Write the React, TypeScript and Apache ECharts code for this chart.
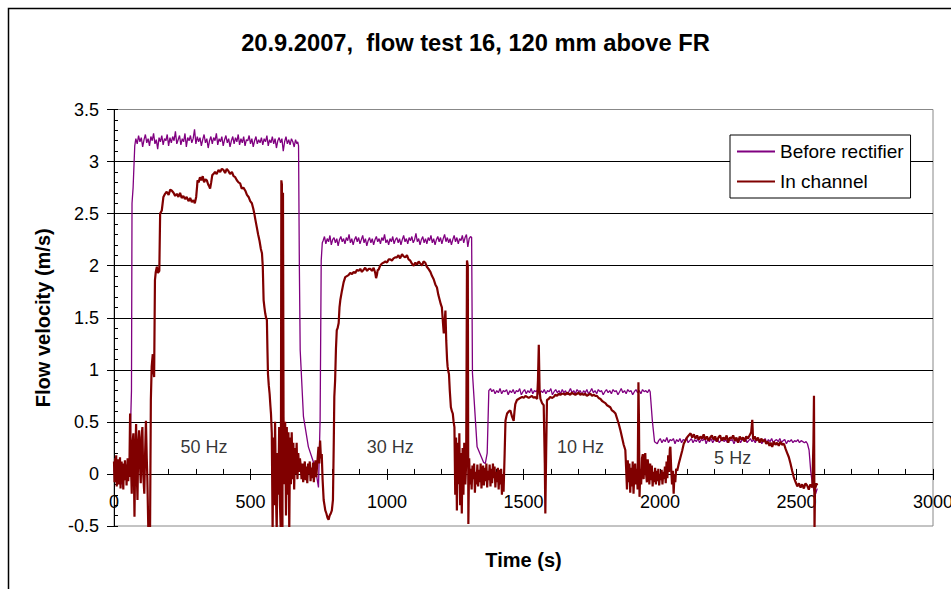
import React, { useEffect, useRef } from "react";
import * as echarts from "echarts";

const titleText = "20.9.2007,  flow test 16, 120 mm above FR";
const seriesNames = ["Before rectifier", "In channel"];
const seriesColors = ["#800080", "#800000"];
const yTicks = { min: -0.5, max: 3.5, step: 0.5, minorStep: 0.1 };
const xTicks = { min: 0, max: 3000, step: 500, minorStep: 100 };

const beforeRectifier: [number, number][] = [
  [0,0.04],[3,-0.03],[6,0.07],[9,-0.01],[12,0.05],[15,-0.08],[18,0.02],[21,-0.05],[24,0.06],[27,-0.1],[30,0.01],[33,-0.13],[36,0.03],[39,-0.06],[42,0.08],[45,-0.02],[48,0.05],[51,-0.04],[54,0.09],[57,0.02],[59,0.12],[61,0.5],[64,0.8],[66,2.6],[70,2.75],[76,3.15],
  [80,3.22],[85,3.17],[90,3.25],[95,3.19],[100,3.23],[105,3.14],[110,3.21],[115,3.26],[120,3.18],[125,3.22],[130,3.15],[135,3.24],[140,3.2],[145,3.27],[150,3.17],[155,3.21],[160,3.12],[165,3.23],[170,3.19],[175,3.25],[180,3.16],[185,3.22],[190,3.2],[195,3.26],[200,3.15],[205,3.23],[210,3.18],[215,3.24],[220,3.2],[225,3.29],[230,3.17],[235,3.21],[240,3.25],[245,3.16],[250,3.22],[255,3.19],[260,3.27],[265,3.14],[270,3.23],[275,3.2],[280,3.25],[285,3.18],[290,3.22],[295,3.31],[300,3.17],[305,3.24],[310,3.19],[315,3.23],[320,3.15],[325,3.21],[330,3.26],[335,3.18],[340,3.22],[345,3.13],[350,3.2],[355,3.24],[360,3.17],[365,3.23],[370,3.2],[375,3.27],[380,3.16],[385,3.22],[390,3.19],[395,3.24],[400,3.15],[405,3.21],[410,3.25],[415,3.18],[420,3.22],[425,3.14],[430,3.2],[435,3.24],[440,3.17],[445,3.23],[450,3.19],[455,3.26],[460,3.16],[465,3.22],[470,3.18],[475,3.24],[480,3.15],[485,3.21],[490,3.2],[495,3.25],[500,3.17],[505,3.22],[510,3.14],[515,3.2],[520,3.24],[525,3.17],[530,3.21],[535,3.18],[540,3.23],[545,3.16],[550,3.22],[555,3.19],[560,3.25],[565,3.15],[570,3.21],[575,3.18],[580,3.24],[585,3.17],[590,3.22],[595,3.13],[600,3.2],[605,3.23],[610,3.18],[615,3.22],[620,3.1],[625,3.19],[630,3.24],[635,3.17],[640,3.21],[645,3.16],[650,3.22],[655,3.19],[660,3.14],[665,3.21],[670,3.17],[673,3.19],
  [676,3.15],[679,1.99],[682,1.19],[694,0.55],[712,0.26],[731,0.11],[743,-0.03],[749,-0.13],[755,0.52],[759,2.05],[763,2.22],
  [766,2.24],[771,2.28],[776,2.21],[781,2.26],[786,2.23],[791,2.29],[796,2.2],[801,2.25],[806,2.27],[811,2.22],[816,2.26],[821,2.19],[826,2.25],[831,2.28],[836,2.23],[841,2.26],[846,2.21],[851,2.27],[856,2.24],[861,2.3],[866,2.22],[871,2.26],[876,2.2],[881,2.25],[886,2.28],[891,2.23],[896,2.27],[901,2.21],[906,2.25],[911,2.29],[916,2.22],[921,2.26],[926,2.19],[931,2.24],[936,2.27],[941,2.22],[946,2.26],[951,2.2],[956,2.25],[961,2.28],[966,2.23],[971,2.26],[976,2.21],[981,2.27],[986,2.24],[991,2.3],[996,2.22],[1001,2.25],[1006,2.2],[1011,2.26],[1016,2.23],[1021,2.28],[1026,2.21],[1031,2.25],[1036,2.27],[1041,2.22],[1046,2.26],[1051,2.2],[1056,2.25],[1061,2.29],[1066,2.23],[1071,2.26],[1076,2.21],[1081,2.27],[1086,2.24],[1091,2.28],[1096,2.22],[1101,2.25],[1106,2.31],[1111,2.23],[1116,2.26],[1121,2.2],[1126,2.25],[1131,2.28],[1136,2.22],[1141,2.26],[1146,2.21],[1151,2.27],[1156,2.24],[1161,2.29],[1166,2.22],[1171,2.26],[1176,2.2],[1181,2.25],[1186,2.28],[1191,2.23],[1196,2.27],[1201,2.21],[1206,2.26],[1211,2.3],[1216,2.23],[1221,2.27],[1226,2.22],[1231,2.26],[1236,2.2],[1241,2.25],[1246,2.29],[1251,2.23],[1256,2.27],[1261,2.21],[1266,2.26],[1271,2.24],[1276,2.29],[1281,2.22],[1286,2.27],[1291,2.3],[1296,2.18],[1301,2.26],[1306,2.28],[1310,2.27],
  [1313,0.97],[1330,0.26],[1354,0.11],[1360,0.1],[1367,0.2],[1373,0.8],[1379,0.82],
  [1384,0.79],[1390,0.81],[1396,0.77],[1402,0.8],[1408,0.78],[1414,0.82],[1420,0.77],[1426,0.8],[1432,0.79],[1438,0.81],[1444,0.76],[1450,0.8],[1456,0.78],[1462,0.81],[1468,0.77],[1474,0.8],[1480,0.79],[1486,0.82],[1492,0.76],[1498,0.79],[1504,0.81],[1510,0.77],[1516,0.8],[1522,0.78],[1528,0.82],[1534,0.77],[1540,0.8],[1546,0.79],[1552,0.81],[1558,0.76],[1564,0.8],[1570,0.78],[1576,0.81],[1582,0.77],[1588,0.8],[1594,0.79],[1600,0.82],[1606,0.76],[1612,0.79],[1618,0.81],[1624,0.78],[1630,0.8],[1636,0.77],[1642,0.81],[1648,0.78],[1654,0.8],[1660,0.76],[1666,0.79],[1672,0.82],[1678,0.78],[1684,0.8],[1690,0.77],[1696,0.81],[1702,0.79],[1708,0.8],[1714,0.76],[1720,0.8],[1726,0.78],[1732,0.81],[1738,0.77],[1744,0.79],[1750,0.82],[1756,0.78],[1762,0.8],[1768,0.77],[1774,0.81],[1780,0.79],[1786,0.8],[1792,0.76],[1798,0.79],[1804,0.81],[1810,0.78],[1816,0.8],[1822,0.77],[1828,0.81],[1834,0.79],[1840,0.8],[1846,0.76],[1852,0.79],[1858,0.82],[1864,0.78],[1870,0.8],[1876,0.77],[1882,0.81],[1888,0.79],[1894,0.8],[1900,0.76],[1906,0.79],[1912,0.81],[1918,0.78],[1924,0.8],[1930,0.77],[1936,0.81],[1942,0.79],[1948,0.8],[1954,0.78],[1960,0.81],[1964,0.79],
  [1972,0.51],[1980,0.31],[1990,0.29],
  [1995,0.32],[2001,0.34],[2007,0.3],[2013,0.33],[2019,0.31],[2025,0.35],[2031,0.3],[2037,0.33],[2043,0.32],[2049,0.34],[2055,0.29],[2061,0.33],[2067,0.31],[2073,0.34],[2079,0.3],[2085,0.33],[2091,0.32],[2097,0.35],[2103,0.3],[2109,0.32],[2115,0.34],[2121,0.3],[2127,0.33],[2133,0.31],[2139,0.34],[2145,0.3],[2151,0.33],[2157,0.32],[2163,0.35],[2169,0.29],[2175,0.33],[2181,0.31],[2187,0.34],[2193,0.3],[2199,0.33],[2205,0.32],[2211,0.34],[2217,0.3],[2223,0.32],[2229,0.34],[2235,0.31],[2241,0.33],[2247,0.3],[2253,0.34],[2259,0.32],[2265,0.33],[2271,0.29],[2277,0.33],[2283,0.31],[2289,0.34],[2295,0.3],[2301,0.33],[2307,0.32],[2313,0.35],[2319,0.3],[2325,0.32],[2331,0.34],[2337,0.31],[2343,0.33],[2349,0.3],[2355,0.34],[2361,0.32],[2367,0.33],[2373,0.29],[2379,0.32],[2385,0.34],[2391,0.3],[2397,0.33],[2403,0.31],[2409,0.34],[2415,0.3],[2421,0.32],[2427,0.33],[2433,0.31],[2439,0.34],[2445,0.3],[2451,0.32],[2457,0.33],[2463,0.29],[2469,0.32],[2475,0.31],[2481,0.33],[2487,0.3],[2493,0.32],[2499,0.31],[2505,0.33],[2511,0.3],[2517,0.32],[2523,0.31],[2529,0.3],[2535,0.31],[2540,0.29],
  [2546,0.23],[2552,0.03],[2558,-0.09],[2564,-0.16],[2570,-0.19],[2576,-0.14]
];

const inChannel: [number, number][] = [
  [0,0.12],[2,-0.08],[4,0.15],[6,-0.02],[8,0.18],[10,-0.12],[12,0.05],[14,0.14],[16,-0.1],[18,0.08],[20,-0.05],[22,0.16],[24,-0.14],[26,0.02],[28,0.12],[30,-0.08],[32,0.1],[34,-0.15],[36,0.06],[38,-0.02],[40,0.13],[42,-0.06],[44,0.09],[46,-0.11],[48,0.04],[50,0.15],[52,-0.07],[54,0.1],[56,-0.03],
  [59,0.58],[62,0.1],[65,-0.19],[68,0.3],[71,0.39],[73,0.0],[75,-0.41],[78,0.2],[81,0.48],[83,0.05],[86,-0.25],[89,0.3],[92,0.42],[95,0.1],[98,-0.09],[101,0.35],[104,0.45],[107,0.0],[111,-0.19],[114,0.2],[117,0.51],[120,0.15],[122,-0.03],[126,-0.57],[132,-0.57],[135,0.71],[138,1.03],[142,1.15],[145,0.98],[147,0.93],[150,1.86],[153,1.94],[157,1.99],[161,1.93],[166,1.95],[169,2.5],[175,2.53],[181,2.66],[187,2.69],[193,2.71],[200,2.68],[206,2.73],[212,2.72],[218,2.7],[224,2.67],[230,2.69],[236,2.66],[242,2.7],[248,2.65],[254,2.67],[260,2.64],[266,2.66],[273,2.62],[279,2.65],[285,2.61],[291,2.63],[296,2.6],[301,2.66],[304,2.75],[306,2.82],[310,2.8],[315,2.85],[320,2.82],[325,2.86],[330,2.8],[335,2.83],[340,2.82],[345,2.78],[349,2.76],[352,2.74],[356,2.8],[360,2.87],[364,2.88],[370,2.9],[376,2.88],[383,2.92],[389,2.9],[395,2.93],[401,2.92],[407,2.89],[413,2.93],[419,2.91],[425,2.88],[432,2.9],[438,2.86],[444,2.85],[450,2.82],[456,2.8],[462,2.79],[468,2.74],[474,2.75],[481,2.72],[487,2.68],[493,2.66],[499,2.62],[505,2.6],[510,2.55],[514,2.5],[518,2.44],[523,2.37],[528,2.3],[533,2.24],[538,2.16],[542,2.12],[545,1.99],[548,1.67],[551,1.6],[554,1.54],[557,1.5],[560,1.48],[562,1.2],[564,0.96],[567,0.85],[570,0.77],[573,0.65],[575,0.58],[578,0.39],
  [581,-0.55],[584,0.35],[587,-0.3],[590,0.5],[593,-0.15],[596,-0.55],[599,0.2],[602,-0.2],[605,0.45],[608,-0.3],[611,-0.55],[613,2.82],[615,2.78],[617,-0.55],[619,2.7],[621,0.55],[624,-0.1],[627,0.5],[630,-0.4],[633,0.45],[636,-0.2],[639,0.4],[642,-0.55],[645,0.35],[648,-0.1],[651,0.4],[654,-0.05],[657,0.3],[660,-0.15],[663,0.25],[666,0.0],[669,0.3],[672,-0.05],[675,0.2],[678,0.02],[681,0.15],
  [684,0.08],[687,-0.05],[690,0.1],[693,-0.08],[696,0.05],[699,0.12],[702,-0.06],[705,0.07],[708,-0.09],[711,0.1],[714,0.0],[717,0.12],[720,-0.07],[723,0.06],[726,-0.04],[729,0.11],[732,-0.08],[735,0.05],[738,0.13],[741,-0.03],[744,0.08],
  [749,0.26],[752,0.1],[755,0.32],[758,0.15],[761,0.19],[764,-0.05],[768,-0.25],[771,-0.3],[774,-0.35],[778,-0.38],[782,-0.42],[786,-0.44],[790,-0.4],[794,-0.38],[798,-0.35],[802,-0.25],[805,0.3],[807,0.74],[810,0.9],[813,1.2],[816,1.38],[819,1.4],[823,1.45],[826,1.6],[829,1.67],[835,1.76],[841,1.84],[847,1.89],[853,1.9],[859,1.91],[865,1.93],[872,1.92],[878,1.94],[884,1.93],[890,1.96],[896,1.95],[902,1.97],[908,1.94],[914,1.96],[920,1.98],[927,1.95],[933,1.97],[939,1.97],[945,1.95],[951,1.98],[957,1.93],[960,1.88],[963,1.91],[966,1.96],[969,1.96],[975,2.0],[981,2.02],[988,2.03],[994,2.04],[1000,2.03],[1006,2.06],[1012,2.06],[1018,2.05],[1024,2.07],[1030,2.08],[1036,2.08],[1042,2.1],[1048,2.07],[1055,2.11],[1061,2.09],[1067,2.08],[1073,2.1],[1079,2.06],[1085,2.05],[1091,2.02],[1098,2.0],[1104,2.03],[1110,2.01],[1116,2.04],[1122,2.02],[1128,2.0],[1134,2.04],[1140,2.03],[1146,1.99],[1152,1.97],[1159,1.94],[1165,1.9],[1171,1.87],[1177,1.82],[1183,1.79],[1188,1.72],[1193,1.67],[1197,1.63],[1201,1.6],[1205,1.45],[1208,1.35],[1211,1.45],[1214,1.57],[1217,1.28],[1220,1.1],[1222,1.03],[1225,0.98],[1227,0.96],[1230,0.8],[1234,0.64],[1238,0.6],[1241,0.58],[1244,0.5],[1247,0.45],
  [1250,-0.2],[1253,0.35],[1256,-0.35],[1259,0.3],[1262,-0.1],[1265,0.39],[1268,-0.3],[1271,0.2],[1274,-0.38],[1277,0.25],[1280,-0.2],[1283,0.3],[1287,-0.1],[1290,0.1],[1293,2.05],[1296,2.0],[1298,-0.48],[1301,0.15],
  [1304,-0.1],[1307,0.05],[1310,-0.15],[1313,0.08],[1316,-0.05],[1319,0.1],[1322,-0.18],[1325,0.02],[1328,-0.1],[1331,0.09],[1334,-0.12],[1337,0.04],[1340,-0.08],[1343,0.1],[1346,-0.14],[1349,0.0],[1352,0.08],[1355,-0.11],[1358,0.06],[1361,-0.07],[1364,0.1],[1367,-0.13],[1370,0.03],[1373,-0.06],[1376,0.09],[1379,-0.12],[1382,0.05],[1385,-0.09],[1388,0.1],[1391,-0.04],[1394,0.07],[1397,-0.13],[1400,0.02],[1403,-0.08],[1406,0.06],[1409,-0.15],[1412,0.04],[1415,-0.1],[1418,0.05],[1421,-0.2],[1424,0.0],[1427,-0.17],
  [1431,0.2],[1434,0.51],[1437,0.55],[1440,0.58],[1446,0.6],[1452,0.61],[1458,0.55],[1464,0.51],[1467,0.6],[1470,0.67],[1476,0.71],[1482,0.72],[1488,0.73],[1495,0.74],[1501,0.73],[1507,0.75],[1513,0.74],[1519,0.73],[1525,0.74],[1531,0.75],[1537,0.73],[1543,0.74],[1550,0.72],[1553,0.9],[1556,1.24],[1559,0.8],[1562,0.72],[1568,0.68],[1574,0.66],[1578,0.1],[1580,-0.38],[1583,0.2],[1586,0.71],[1592,0.72],[1598,0.74],[1604,0.73],[1611,0.74],[1617,0.76],[1623,0.75],[1629,0.77],[1635,0.76],[1641,0.77],[1647,0.77],[1653,0.76],[1659,0.78],[1665,0.77],[1671,0.76],[1677,0.78],[1683,0.77],[1690,0.76],[1696,0.77],[1702,0.78],[1708,0.76],[1714,0.77],[1720,0.76],[1726,0.77],[1732,0.75],[1738,0.76],[1745,0.77],[1751,0.75],[1757,0.76],[1763,0.75],[1769,0.75],[1775,0.73],[1782,0.72],[1788,0.7],[1794,0.69],[1800,0.68],[1806,0.66],[1812,0.65],[1818,0.64],[1824,0.61],[1830,0.6],[1837,0.58],[1843,0.53],[1849,0.48],[1855,0.42],[1861,0.35],[1867,0.28],[1873,0.23],
  [1876,0.05],[1879,-0.15],[1882,0.13],[1885,-0.08],[1888,0.1],[1891,-0.18],[1894,0.06],[1897,-0.12],[1900,0.12],[1903,-0.19],[1906,0.0],[1909,0.1],[1912,-0.1],[1915,0.05],[1918,-0.15],[1921,0.88],[1923,0.5],[1925,-0.22],
  [1928,0.05],[1931,-0.1],[1934,0.15],[1937,0.19],[1940,-0.05],[1943,0.12],[1946,0.2],[1949,0.0],[1952,-0.08],[1955,0.14],[1958,0.05],[1961,-0.1],[1964,0.1],[1967,-0.06],[1970,0.08],[1973,-0.12],[1976,0.02],[1979,-0.08],[1982,0.06],[1985,-0.1],[1988,0.03],[1991,-0.07],[1994,0.05],[1997,-0.11],[2000,0.0],[2003,-0.06],[2006,0.04],[2009,-0.1],[2012,0.02],[2015,-0.05],[2018,0.07],[2021,-0.09],[2024,0.12],[2027,-0.04],[2030,0.18],[2033,0.02],[2036,0.24],[2038,0.26],[2041,0.05],[2044,-0.1],[2047,0.03],[2050,-0.19],[2053,0.0],[2056,-0.08],[2059,0.05],
  [2063,0.03],[2069,0.1],[2075,0.16],[2081,0.22],[2087,0.29],[2093,0.32],[2099,0.35],[2105,0.37],[2112,0.39],[2118,0.35],[2124,0.38],[2130,0.34],[2136,0.37],[2142,0.33],[2148,0.36],[2154,0.34],[2160,0.38],[2166,0.33],[2172,0.36],[2178,0.32],[2184,0.35],[2190,0.37],[2196,0.33],[2202,0.36],[2208,0.31],[2214,0.35],[2220,0.37],[2226,0.32],[2232,0.35],[2238,0.33],[2244,0.37],[2250,0.3],[2256,0.35],[2262,0.34],[2268,0.37],[2274,0.32],[2280,0.35],[2286,0.3],[2292,0.36],[2298,0.33],[2304,0.35],[2310,0.31],[2316,0.36],[2322,0.34],[2328,0.37],[2334,0.4],[2338,0.52],[2341,0.33],[2347,0.36],[2353,0.32],[2359,0.35],[2365,0.3],[2371,0.34],[2377,0.31],[2383,0.33],[2389,0.29],[2395,0.31],[2401,0.27],[2405,0.3],[2411,0.26],[2417,0.31],[2423,0.28],[2429,0.3],[2435,0.27],[2441,0.31],[2447,0.28],[2454,0.29],[2460,0.24],[2466,0.2],[2472,0.16],[2478,0.1],[2484,0.03],[2490,-0.03],[2497,-0.08],[2503,-0.12],[2509,-0.09],[2515,-0.13],[2521,-0.1],[2527,-0.14],[2533,-0.09],[2539,-0.11],[2545,-0.15],[2551,-0.1],[2558,-0.13],[2562,0.3],[2564,0.75],[2566,-0.55],[2568,-0.1],[2570,-0.13],[2573,-0.09],[2576,-0.11]
];

const freqLabels: { text: string; t: number; v: number }[] = [
  { text: "50 Hz", t: 330, v: 0.26 },
  { text: "30 Hz", t: 1012, v: 0.255 },
  { text: "10 Hz", t: 1709, v: 0.255 },
  { text: "5 Hz", t: 2266, v: 0.15 },
];

const FONT = "'Liberation Sans', Arial, Helvetica, sans-serif";

export default function App() {
  const ref = useRef<HTMLDivElement>(null);
  useEffect(() => {
    if (!ref.current) return;
    const chart = echarts.init(ref.current, undefined, { renderer: "svg" });
    const gridBox = { left: 114, top: 109.5, right: 18, bottom: 63, containLabel: false, outerBoundsMode: "none" };
    const hiddenY = (gridIndex: number) => ({
      type: "value",
      gridIndex,
      min: yTicks.min,
      max: yTicks.max,
      interval: yTicks.step,
      position: "left",
      axisLine: { show: false, onZero: false },
      axisTick: { show: false },
      axisLabel: { show: false },
      splitLine: { show: false },
    });
    chart.setOption({
      animation: false,
      backgroundColor: "#ffffff",
      color: seriesColors,
      textStyle: { fontFamily: FONT, color: "#000" },
      title: {
        text: titleText,
        left: "center",
        top: 31,
        padding: 0,
        textStyle: { fontFamily: FONT, fontSize: 23.7, fontWeight: "bold", color: "#000" },
      },
      graphic: [
        {
          type: "rect",
          silent: true,
          z: -10,
          shape: { x: 8.5, y: 8.5, width: 1000, height: 1000 },
          style: { fill: "none", stroke: "#000", lineWidth: 1.5 },
        },
      ],
      legend: {
        data: seriesNames,
        orient: "vertical",
        left: 730,
        top: 135,
        padding: [7, 7, 7, 7],
        itemGap: 11,
        itemWidth: 38,
        itemHeight: 2,
        icon: "rect",
        backgroundColor: "#fff",
        borderColor: "#000",
        borderWidth: 1,
        textStyle: { fontFamily: FONT, fontSize: 19, color: "#000" },
      },
      grid: [
        { ...gridBox, show: true, borderColor: "#888", borderWidth: 1, backgroundColor: "transparent" },
        { ...gridBox, show: false },
        { ...gridBox, show: false },
      ],
      xAxis: [
        {
          type: "value",
          gridIndex: 0,
          min: xTicks.min,
          max: xTicks.max,
          interval: xTicks.step,
          position: "bottom",
          name: "Time (s)",
          nameLocation: "middle",
          nameGap: 24,
          nameTextStyle: { fontFamily: FONT, fontSize: 20, fontWeight: "bold", color: "#000" },
          axisLine: { show: false, onZero: false },
          axisTick: { show: false },
          axisLabel: { fontFamily: FONT, fontSize: 18, color: "#000", margin: -33, formatter: (v: number) => String(v) },
          splitLine: { show: false },
        },
        {
          type: "value",
          gridIndex: 1,
          min: xTicks.min,
          max: xTicks.max,
          interval: xTicks.minorStep,
          position: "bottom",
          axisLine: { show: true, onZero: true, lineStyle: { color: "#000", width: 1 } },
          axisTick: { show: true, inside: true, length: 5, lineStyle: { color: "#000" } },
          axisLabel: { show: false },
          splitLine: { show: false },
        },
        {
          type: "value",
          gridIndex: 2,
          min: xTicks.min,
          max: xTicks.max,
          interval: xTicks.step,
          position: "bottom",
          axisLine: { show: false, onZero: true },
          axisTick: { show: true, inside: false, length: 6, lineStyle: { color: "#000" } },
          axisLabel: { show: false },
          splitLine: { show: false },
        },
      ],
      yAxis: [
        {
          type: "value",
          gridIndex: 0,
          min: yTicks.min,
          max: yTicks.max,
          interval: yTicks.step,
          position: "left",
          name: "Flow velocity (m/s)",
          nameLocation: "middle",
          nameGap: 61,
          nameTextStyle: { fontFamily: FONT, fontSize: 20, fontWeight: "bold", color: "#000" },
          axisLine: { show: true, onZero: false, lineStyle: { color: "#000", width: 1 } },
          axisTick: { show: true, inside: false, length: 7, lineStyle: { color: "#000" } },
          axisLabel: { fontFamily: FONT, fontSize: 18, color: "#000", margin: 15 },
          splitLine: { show: true, showMinLine: false, showMaxLine: false, lineStyle: { color: "#000", width: 1 } },
        },
        {
          type: "value",
          gridIndex: 1,
          min: yTicks.min,
          max: yTicks.max,
          interval: yTicks.minorStep,
          position: "left",
          axisLine: { show: false, onZero: false },
          axisTick: { show: true, inside: true, length: 4, lineStyle: { color: "#000" } },
          axisLabel: { show: false },
          splitLine: { show: false },
        },
        hiddenY(2),
      ],
      series: [
        {
          name: seriesNames[0],
          type: "line",
          xAxisIndex: 0,
          yAxisIndex: 0,
          data: beforeRectifier,
          showSymbol: false,
          symbol: "none",
          clip: true,
          lineStyle: { color: seriesColors[0], width: 1.3 },
          itemStyle: { color: seriesColors[0] },
          z: 2,
        },
        {
          name: seriesNames[1],
          type: "line",
          xAxisIndex: 0,
          yAxisIndex: 0,
          data: inChannel,
          showSymbol: false,
          symbol: "none",
          clip: true,
          lineStyle: { color: seriesColors[1], width: 2.2 },
          itemStyle: { color: seriesColors[1] },
          z: 3,
        },
        {
          name: "labels",
          type: "scatter",
          xAxisIndex: 0,
          yAxisIndex: 0,
          symbolSize: 0,
          silent: true,
          z: 4,
          data: freqLabels.map((d) => ({ name: d.text, value: [d.t, d.v] })),
          label: {
            show: true,
            position: "inside",
            formatter: (p: any) => p.name,
            fontFamily: FONT,
            fontSize: 18,
            color: "#000",
          },
        },
      ],
    });
    return () => chart.dispose();
  }, []);
  return (
    <div
      ref={ref}
      style={{ position: "fixed", left: 0, top: 0, width: 951, height: 589, background: "#fff" }}
    />
  );
}
